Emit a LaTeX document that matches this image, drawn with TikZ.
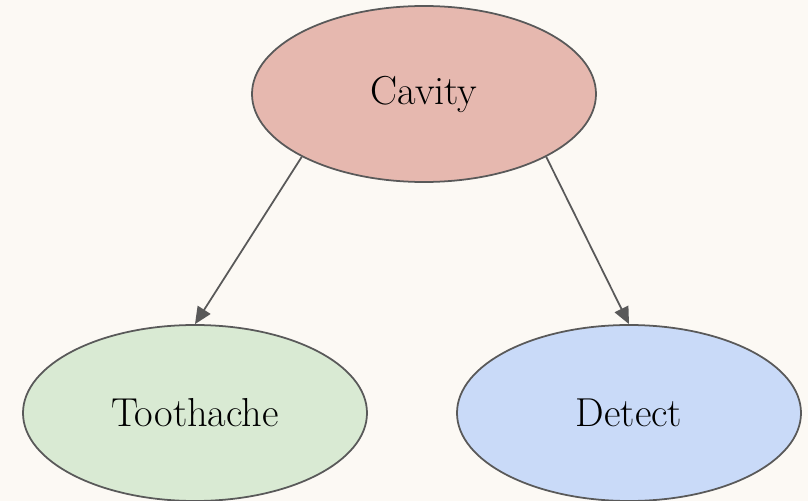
\documentclass[tikz,border=0pt]{standalone}
\usetikzlibrary{shapes.geometric,arrows.meta}
\definecolor{bgCream}{HTML}{FCF9F4}
\definecolor{edgeGray}{HTML}{595959}
\definecolor{cavityRed}{HTML}{E6B8AF}
\definecolor{toothGreen}{HTML}{D9EAD3}
\definecolor{detectBlue}{HTML}{C9DAF8}
\begin{document}
\begin{tikzpicture}
            [node/.style={ellipse,draw=edgeGray,line width=1pt,minimum width=6.88cm,minimum height=3.52cm,inner sep=0pt,font=\fontsize{23}{27}\selectfont},
        edge/.style={draw=edgeGray,line width=1pt,-{Triangle[length=0.34cm,width=0.3cm]}}]
            \fill[bgCream] (0,0) rectangle (16.16,-10.02);
            \useasboundingbox (0,0) rectangle (16.16,-10.02);
            \node[node, fill=cavityRed] (C) at (8.48,-1.88) {Cavity};
            \node[node, fill=toothGreen] (T) at (3.9,-8.26) {Toothache};
            \node[node, fill=detectBlue] (D) at (12.58,-8.26) {Detect};

            \draw[edge] (C.south west) -- (T.north);
            \draw[edge] (C.south east) -- (D.north);
        \end{tikzpicture}
\end{document}
